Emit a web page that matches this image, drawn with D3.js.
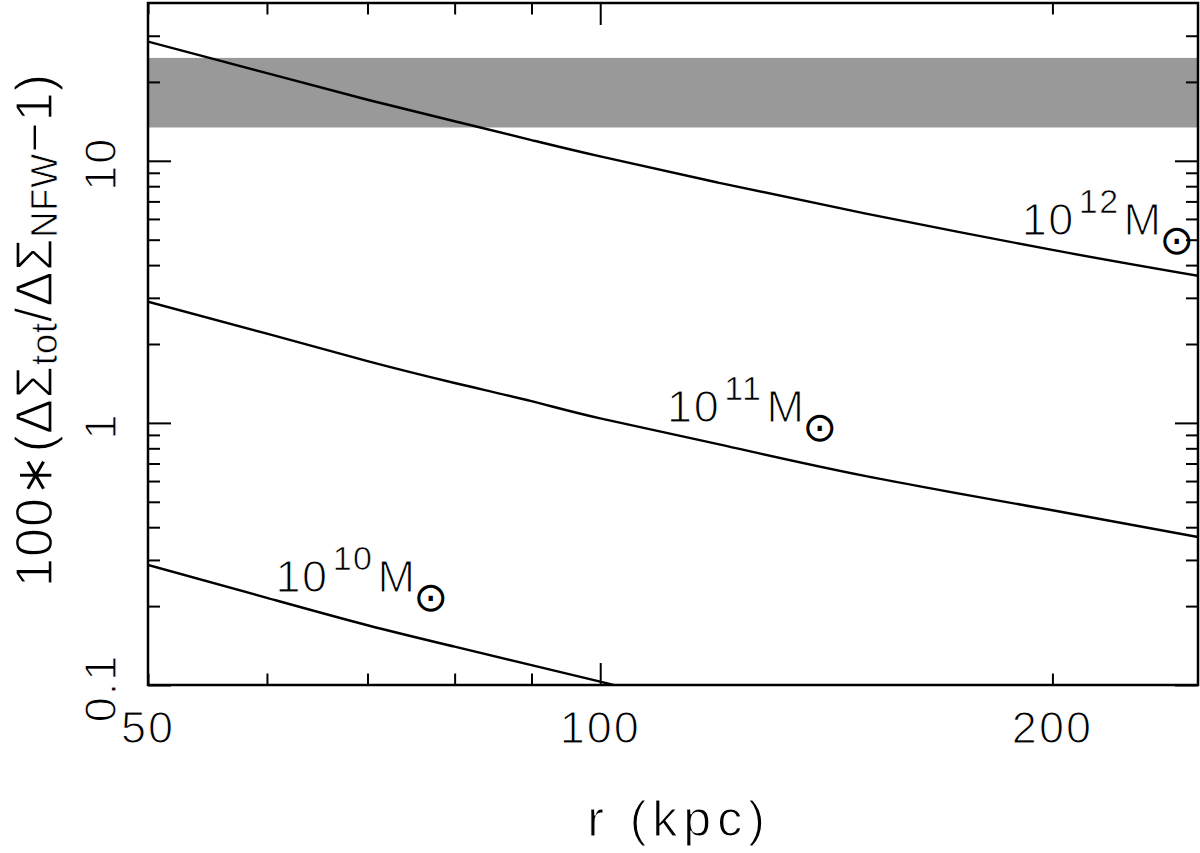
<!DOCTYPE html>
<html>
<head>
<meta charset="utf-8">
<script src="https://cdn.jsdelivr.net/npm/d3@7"></script>
<style>
  html, body { margin: 0; padding: 0; background: #fff; }
  svg { display: block; }
  text { font-family: "Liberation Sans", Arial, sans-serif; fill: #000; stroke: #fff; stroke-width: 1.2px; }
  tspan.small { stroke-width: 0.7px; }
  tspan.sun { stroke: none; }
</style>
</head>
<body>
<svg id="chart" width="1200" height="853"></svg>
<script>
// ---- data ----
const rGrid = [50, 60, 70, 80, 90, 100, 120, 150, 200, 250];          // r (kpc)
const mass12 = [28.5, 21.6, 17.1, 14.15, 12.0, 10.39, 8.24, 6.30, 4.57, 3.64];
const mass11 = [2.90, 2.19, 1.72, 1.42, 1.21, 1.04, 0.828, 0.628, 0.464, 0.367];
const rGrid10 = [50, 60, 70, 80, 90, 100, 110];
const mass10 = [0.287, 0.215, 0.169, 0.140, 0.119, 0.103, 0.090];

const bandLow = 13.4, bandHigh = 24.7;          // grey band

const xDomain = [50, 250];
const yDomain = [0.1, 40];
const xMajor = [100];
const xMinor = [50, 60, 70, 80, 90, 200];
const xTickLabels = [50, 100, 200];
const yMajor = [0.1, 1, 10];
const yMinor = [0.2, 0.3, 0.4, 0.5, 0.6, 0.7, 0.8, 0.9, 2, 3, 4, 5, 6, 7, 8, 9, 20, 30];
const yTickLabels = ["0.1", "1", "10"];

const massExp = ["10", "11", "12"];
const labelR = [60.8, 110.8, 190.8];
const labelV = [0.227, 1.012, 5.19];

// ---- layout ----
const L = 148, R = 1198, T = 3, B = 685;
const svg = d3.select("#chart");
const x = d3.scaleLog().domain(xDomain).range([L, R]);
const y = d3.scaleLog().domain(yDomain).range([B, T]);

svg.append("defs").append("clipPath").attr("id", "clip")
  .append("rect").attr("x", L).attr("y", T).attr("width", R - L).attr("height", B - T);

const plot = svg.append("g").attr("clip-path", "url(#clip)");

// band
plot.append("rect")
  .attr("x", L).attr("width", R - L)
  .attr("y", y(bandHigh)).attr("height", y(bandLow) - y(bandHigh))
  .attr("fill", "#999999");

// curves
const line = d3.line().x(d => x(d[0])).y(d => y(d[1])).curve(d3.curveNatural);
const series = [
  rGrid10.map((r, i) => [r, mass10[i]]),
  rGrid.map((r, i) => [r, mass11[i]]),
  rGrid.map((r, i) => [r, mass12[i]])
];
series.forEach(s => {
  plot.append("path").attr("d", line(s))
    .attr("fill", "none").attr("stroke", "#000").attr("stroke-width", 2.4);
});

// axes ticks (inward)
function tickAxis(axisFn, scale, vals, size, transform) {
  const g = svg.append("g").attr("transform", transform)
    .call(axisFn(scale).tickValues(vals).tickSize(-size).tickFormat(""));
  g.select(".domain").remove();
  g.selectAll(".tick line").attr("stroke", "#000").attr("stroke-width", 2);
  return g;
}
tickAxis(d3.axisBottom, x, xMajor, 22, `translate(0,${B})`);
tickAxis(d3.axisBottom, x, xMinor, 11.5, `translate(0,${B})`);
tickAxis(d3.axisTop, x, xMajor, 22, `translate(0,${T})`);
tickAxis(d3.axisTop, x, xMinor, 11.5, `translate(0,${T})`);
tickAxis(d3.axisLeft, y, yMajor, 23, `translate(${L},0)`);
tickAxis(d3.axisLeft, y, yMinor, 12, `translate(${L},0)`);
tickAxis(d3.axisRight, y, yMajor, 23, `translate(${R},0)`);
tickAxis(d3.axisRight, y, yMinor, 12, `translate(${R},0)`);

// frame
svg.append("rect").attr("x", L).attr("y", T).attr("width", R - L).attr("height", B - T)
  .attr("fill", "none").attr("stroke", "#000").attr("stroke-width", 2.5);

// x tick labels
svg.append("g").selectAll("text").data(xTickLabels).join("text")
  .attr("x", d => x(d)).attr("y", B + 58)
  .attr("text-anchor", "middle")
  .attr("font-size", 45).attr("letter-spacing", 2)
  .text(d => d);

// y tick labels (rotated)
svg.append("g").selectAll("text").data(yTickLabels).join("text")
  .attr("transform", d => `translate(116,${y(+d) + 3}) rotate(-90)`)
  .attr("text-anchor", "middle")
  .attr("font-size", 45).attr("letter-spacing", 2)
  .text(d => d);

// axis titles
svg.append("text")
  .attr("x", 679).attr("y", 836)
  .attr("text-anchor", "middle")
  .attr("font-size", 50).attr("letter-spacing", 6)
  .text("r (kpc)");

const yt = svg.append("text")
  .attr("transform", "translate(52,330) rotate(-90)")
  .attr("text-anchor", "middle")
  .attr("font-size", 52).attr("letter-spacing", 1);
yt.append("tspan").text("100∗(ΔΣ");
yt.append("tspan").attr("class", "small").attr("font-size", 36).attr("dy", 5).text("tot");
yt.append("tspan").attr("dy", -5).text("/ΔΣ");
yt.append("tspan").attr("class", "small").attr("font-size", 36).attr("dy", 5).text("NFW");
yt.append("tspan").attr("dy", -5).text("−1)");

// mass labels
massExp.forEach((e, i) => {
  const t = svg.append("text")
    .attr("x", x(labelR[i])).attr("y", y(labelV[i]))
    .attr("font-size", 45).attr("letter-spacing", 1.5);
  t.append("tspan").text("10");
  t.append("tspan").attr("class", "small").attr("font-size", 34).attr("dy", -22).attr("dx", 4).text(e);
  t.append("tspan").attr("dy", 22).attr("dx", 4).text("M");
  t.append("tspan").attr("class", "sun").attr("font-family", "DejaVu Sans").attr("font-size", 41)
    .attr("dy", 19).attr("dx", -3).attr("letter-spacing", 0).text("⊙");
});
</script>
</body>
</html>
